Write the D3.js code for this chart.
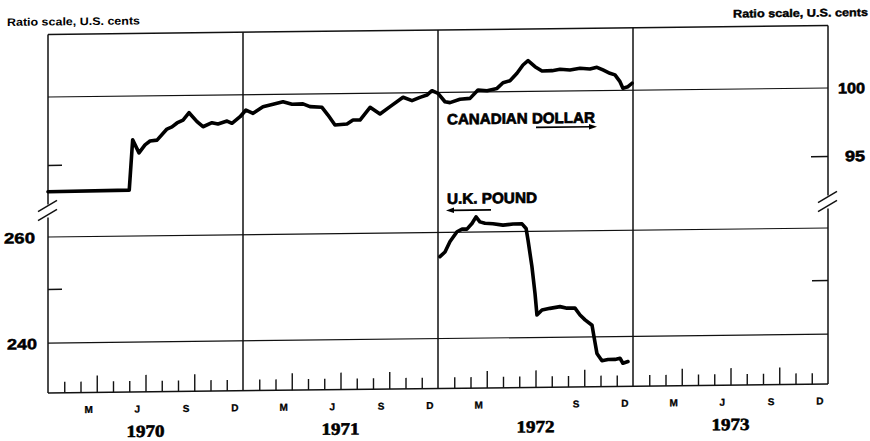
<!DOCTYPE html>
<html><head><meta charset="utf-8">
<script src="https://cdn.jsdelivr.net/npm/d3@7"></script>
<style>body{margin:0;background:#fff}svg{display:block}</style>
</head><body>
<svg id="c" width="870" height="441"></svg>
<script>
// Months since Jan 1, 1970
const cadMonths = [0,5.0,5.21,5.6,5.97,6.28,6.71,7.32,7.63,7.94,8.31,8.68,9.17,9.54,10.09,10.46,11.02,11.32,11.82,12.18,12.62,13.23,13.85,14.46,15.02,15.69,16.12,16.86,17.23,17.66,18.40,18.77,19.20,19.82,20.43,21.05,21.85,22.40,22.89,23.32,23.63,24.0,24.43,24.74,25.35,25.97,26.46,27.02,27.63,28.0,28.43,28.86,29.23,29.54,29.97,30.40,31.02,31.51,32.12,32.74,33.35,33.78,34.15,34.58,34.89,35.20,35.38,35.69,35.94];
const cadValues = [93.1,93.15,96.75,95.8,96.37,96.65,96.71,97.51,97.66,97.95,98.16,98.70,98.03,97.65,97.94,97.84,98.05,97.88,98.36,98.85,98.60,99.08,99.26,99.44,99.24,99.26,99.05,98.99,98.41,97.67,97.73,98.02,98.01,98.95,98.44,98.98,99.67,99.41,99.65,99.82,100.14,99.94,99.30,99.23,99.47,99.53,100.15,100.09,100.26,100.68,100.83,101.39,102.02,102.35,101.88,101.54,101.56,101.66,101.60,101.72,101.65,101.78,101.57,101.31,101.18,100.66,100.16,100.27,100.53];
const gbpMonths = [24.12,24.43,24.74,25.17,25.48,25.78,26.09,26.34,26.58,26.89,27.38,28.0,28.62,29.17,29.42,29.54,29.78,29.97,30.09,30.40,30.89,31.51,31.94,32.43,32.74,33.05,33.48,33.60,33.78,34.09,34.46,34.89,35.20,35.38,35.69];
const gbpValues = [255.3,256.2,258.2,260.1,260.6,260.6,261.7,263.0,262.0,261.7,261.6,261.3,261.5,261.5,260.6,258.3,253.2,248.1,244.1,245.0,245.3,245.6,245.3,245.3,244.0,243.1,242.1,240.0,237.0,235.7,235.9,235.9,236.1,235.2,235.5];
const years = ["1970","1971","1972","1973"];
const monthLabelMonths = [2,5,8,11,14,17,20,23,26,32,35,38,41,44,47];
const monthLabelText = ["M","J","S","D","M","J","S","D","M","S","D","M","J","S","D"];
const upperGrid = [100], upperTicks = [95], upperLabels = [100,95];
const lowerGrid = [260,240], lowerTicks = [250], lowerLabels = [260,240];
const axisTitle = "Ratio scale, U.S. cents";

const svg = d3.select("#c");
const k = 0.01154, cx = 438;
const g = svg.append("g").attr("transform", `matrix(1,${-k},0,1,0,${k*cx})`);
const ink = "#111";
const L = 48, R = 828, T = 30, B = 388.5;

const x = d3.scaleLinear().domain([0,48]).range([L,R]);
const yU = d3.scaleLog().domain([95,100]).range([160.5,92.5]);
const yL = d3.scaleLog().domain([240,260]).range([338.6,232.5]);

// Frame
const frame = g.append("g").attr("stroke", ink).attr("fill","none").attr("stroke-width",1.5);
frame.append("line").attr("x1",L).attr("x2",R).attr("y1",T).attr("y2",T);
frame.append("line").attr("x1",L).attr("x2",R).attr("y1",B).attr("y2",B);
[L,R].forEach(xx=>{
  frame.append("line").attr("x1",xx).attr("x2",xx).attr("y1",T).attr("y2",200);
  frame.append("line").attr("x1",xx).attr("x2",xx).attr("y1",213).attr("y2",B);
  frame.append("line").attr("x1",xx-10).attr("y1",207).attr("x2",xx+9).attr("y2",196);
  frame.append("line").attr("x1",xx-10).attr("y1",216).attr("x2",xx+9).attr("y2",205);
});
// Year dividers
[12,24,36].forEach(m=>{
  frame.append("line").attr("x1",x(m)).attr("x2",x(m)).attr("y1",T).attr("y2",B);
});
// Grid lines
const grid = g.append("g").attr("stroke", ink).attr("stroke-width",1.2);
upperGrid.forEach(v=>grid.append("line").attr("x1",L).attr("x2",R).attr("y1",yU(v)).attr("y2",yU(v)));
lowerGrid.forEach(v=>grid.append("line").attr("x1",L).attr("x2",R).attr("y1",yL(v)).attr("y2",yL(v)));

// Month ticks (pointing up from baseline)
const xAxis = d3.axisTop(x).tickValues(d3.range(1,48).filter(m=>m%12!==0)).tickFormat("").tickSizeOuter(0);
const xg = g.append("g").attr("transform",`translate(0,${B})`).call(xAxis);
xg.select(".domain").remove();
xg.selectAll(".tick line").attr("stroke",ink).attr("stroke-width",1.4)
  .attr("y1", 0).attr("y2", d => d%3===0 ? -17 : -11);

// Y ticks
function yTicks(scale, vals, xpos, size, left){
  const ax = (left ? d3.axisRight(scale) : d3.axisLeft(scale)).tickValues(vals).tickFormat("").tickSize(size).tickSizeOuter(0);
  const gg = g.append("g").attr("transform",`translate(${xpos},0)`).call(ax);
  gg.select(".domain").remove();
  gg.selectAll(".tick line").attr("stroke",ink).attr("stroke-width",1.5);
}
yTicks(yU, upperTicks, L, 14, true);
yTicks(yU, upperTicks, R, 17, false);
yTicks(yL, lowerTicks, L, 14, true);
yTicks(yL, lowerTicks, R, 16, false);

// Lines
const cad = cadMonths.map((m,i)=>[m,cadValues[i]]);
const gbp = gbpMonths.map((m,i)=>[m,gbpValues[i]]);
const lineU = d3.line().x(d=>x(d[0])).y(d=>yU(d[1]));
const lineL = d3.line().x(d=>x(d[0])).y(d=>yL(d[1]));
g.append("path").datum(cad).attr("d",lineU).attr("fill","none").attr("stroke","#000").attr("stroke-width",3.6).attr("stroke-linejoin","round").attr("stroke-linecap","round");
g.append("path").datum(gbp).attr("d",lineL).attr("fill","none").attr("stroke","#000").attr("stroke-width",3.6).attr("stroke-linejoin","round").attr("stroke-linecap","round");

// Text
const font = "'Liberation Sans', Arial, sans-serif";
function txt(s, xx, yy, size, opts={}){
  const t = g.append("text").attr("x",xx).attr("y",yy).text(s)
    .attr("font-family", opts.family || font).attr("font-size",size)
    .attr("font-weight", opts.weight || "bold").attr("fill", "#000")
    .attr("text-anchor", opts.anchor || "start");
  if (opts.len) t.attr("textLength",opts.len).attr("lengthAdjust","spacingAndGlyphs");
  if (opts.stroke) t.attr("stroke","#000").attr("stroke-width",opts.stroke);
  return t;
}
txt(axisTitle, 7, 21, 11, {len:133});
txt(axisTitle, 733, 21, 11, {len:135, stroke:0.4});
txt(String(upperLabels[0]), 838, yU(upperLabels[0])+5.5, 15, {len:27, stroke:0.6});
txt(String(upperLabels[1]), 845, yU(upperLabels[1])+5.5, 15, {len:20, stroke:0.6});
txt(String(lowerLabels[0]), 4, yL(lowerLabels[0])+6, 15, {len:31, stroke:0.5});
txt(String(lowerLabels[1]), 7, yL(lowerLabels[1])+6, 15, {len:30, stroke:0.5});

monthLabelMonths.forEach((m,i)=>{
  txt(monthLabelText[i], x(m+0.5), 409, 10, {anchor:"middle", stroke:0.3});
});
years.forEach((yv,i)=>{
  txt(yv, x(i*12+6), 433.5, 17, {anchor:"middle", family:"'Liberation Serif', serif", len:38, stroke:0.6});
});

// Series labels
txt("CANADIAN DOLLAR", 447, 124.5, 15, {len:148, stroke:0.7});
txt("U.K. POUND", 447, 204, 15, {len:90, stroke:0.7});
// arrows
const arr = g.append("g").attr("stroke","#000").attr("stroke-width",1.6);
arr.append("line").attr("x1",536).attr("x2",592).attr("y1",128.5).attr("y2",128.5);
g.append("path").attr("d","M597,128.5 L589,125.8 L589,131.2 Z").attr("fill","#000");
arr.append("line").attr("x1",452).attr("x2",491).attr("y1",210.5).attr("y2",210.5);
g.append("path").attr("d","M446,210.5 L454,207.8 L454,213.2 Z").attr("fill","#000");
</script>
</body></html>
